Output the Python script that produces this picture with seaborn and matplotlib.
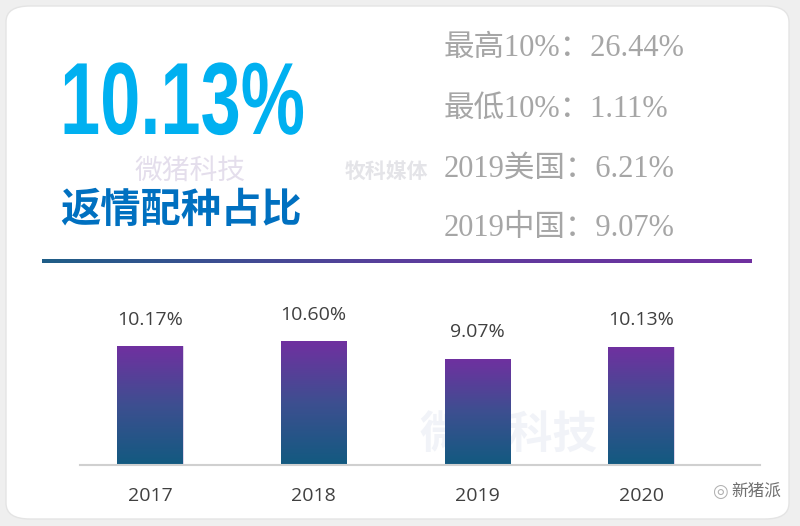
import numpy as np
import matplotlib.pyplot as plt
import seaborn as sns
from matplotlib.colors import LinearSegmentedColormap
from matplotlib.patches import FancyBboxPatch
from matplotlib.transforms import Affine2D
from matplotlib import patheffects

sns.set_theme(style="white")
plt.rcParams['font.family'] = ['Open Sans', 'Noto Sans CJK SC', 'DejaVu Sans']

# ---------------- data ----------------
years = ["2017", "2018", "2019", "2020"]
rates = [10.17, 10.60, 9.07, 10.13]
rate_labels = ["10.17%", "10.60%", "9.07%", "10.13%"]
headline = "10.13%"
subtitle = "返情配种占比"
side_notes = ["最高10%：26.44%", "最低10%：1.11%", "2019美国：6.21%", "2019中国：9.07%"]

W, H = 800, 526
fig = plt.figure(figsize=(W / 100, H / 100), dpi=100)
fig.patch.set_facecolor("#efefef")

def fx(px):
    return px / W

def fy(py):
    return 1 - py / H


class StretchY(patheffects.AbstractPathEffect):
    """stretch glyphs vertically around a baseline (display px)"""
    def __init__(self, sy, base):
        super().__init__()
        self.sy, self.base = sy, base

    def draw_path(self, renderer, gc, tpath, affine, rgbFace=None):
        t = affine + Affine2D().translate(0, -self.base).scale(1, self.sy).translate(0, self.base)
        renderer.draw_path(gc, tpath, t, rgbFace)


# white card
card = FancyBboxPatch((fx(6), fy(519)), fx(783), 513 / H,
                      boxstyle="round,pad=0,rounding_size=0.03",
                      transform=fig.transFigure, facecolor="white",
                      edgecolor="#e4e4e4", lw=1, zorder=-5)
fig.patches.append(card)

# faint watermarks
wm = dict(transform=fig.transFigure, zorder=-1)
fig.text(fx(135), fy(172), "微猪科技", fontsize=20, color="#e4deec", va="center", **wm)
fig.text(fx(345), fy(172), "牧科媒体", fontsize=15, color="#e4e4e8", va="center", weight="bold", **wm)
fig.text(fx(420), fy(437), "微猪科技", fontsize=32, color="#f1f3f8", va="center", weight="bold", **wm)

# headline number
base_y = 134
fig.text(fx(60), fy(base_y), headline, fontsize=52, weight="bold",
         family=['Liberation Sans', 'DejaVu Sans'],
         color="#00b0f0", va="baseline", ha="left", zorder=3,
         path_effects=[StretchY(1.42, H - base_y)])

# subtitle
fig.text(fx(60), fy(211), subtitle, fontsize=29, weight="bold", color="#0070c0",
         va="center", ha="left", zorder=3)

# right-hand notes
for i, note in enumerate(side_notes):
    fig.text(fx(444), fy(49 + i * 60), note, fontsize=22, color="#a6a6a6",
             family=['Liberation Serif', 'Noto Sans CJK SC'],
             va="center", ha="left", zorder=3)

# gradient rule
line_ax = fig.add_axes([fx(42), fy(263.5), fx(710), 5 / H])
rule_cmap = LinearSegmentedColormap.from_list("rule", ["#1f5e87", "#5a3e9c", "#7030a0"])
line_ax.imshow(np.linspace(0, 1, 256)[None, :], aspect="auto", cmap=rule_cmap)
line_ax.axis("off")

# bar chart
ax = fig.add_axes([fx(80), fy(465), fx(680), 152 / H])
ax.set_facecolor("none")
sns.barplot(x=years, y=rates, ax=ax, width=0.4, color="#7030a0", saturation=1)
ax.set_xlim(-0.427, 3.726)
ax.set_ylim(0, 13)

bar_cmap = LinearSegmentedColormap.from_list("bar", ["#125a80", "#3d4f90", "#7030a0"])
grad = np.linspace(0, 1, 256)[:, None]
for p in ax.patches:
    x0, y0 = p.get_x(), p.get_y()
    w, h = p.get_width(), p.get_height()
    p.set_facecolor("none")
    p.set_edgecolor("#d8cce6")
    p.set_linewidth(0.6)
    im = ax.imshow(grad, extent=[x0, x0 + w, y0, y0 + h], origin="lower",
                   aspect="auto", cmap=bar_cmap, zorder=1)
    im.set_clip_path(p)

for i, lab in enumerate(rate_labels):
    ax.text(i, rates[i] + 1.5, lab, ha="center", va="bottom", fontsize=14,
            color="#404040", clip_on=False)

ax.set_xlabel("")
ax.set_ylabel("")
ax.set_yticks([])
ax.tick_params(axis="x", length=0, pad=16, labelsize=14, labelcolor="#404040")
for side in ["top", "right", "left"]:
    ax.spines[side].set_visible(False)
ax.spines["bottom"].set_color("#d0d0d0")
ax.spines["bottom"].set_linewidth(1.5)

# wechat tag
fig.text(fx(712), fy(492), "◎", fontsize=13, color="#b0b0b0", va="center", zorder=3,
         family=['DejaVu Sans'])
fig.text(fx(731), fy(492), "新猪派", fontsize=12, color="#707070", va="center", zorder=3)

fig.savefig("out.png", dpi=100, facecolor=fig.get_facecolor())
